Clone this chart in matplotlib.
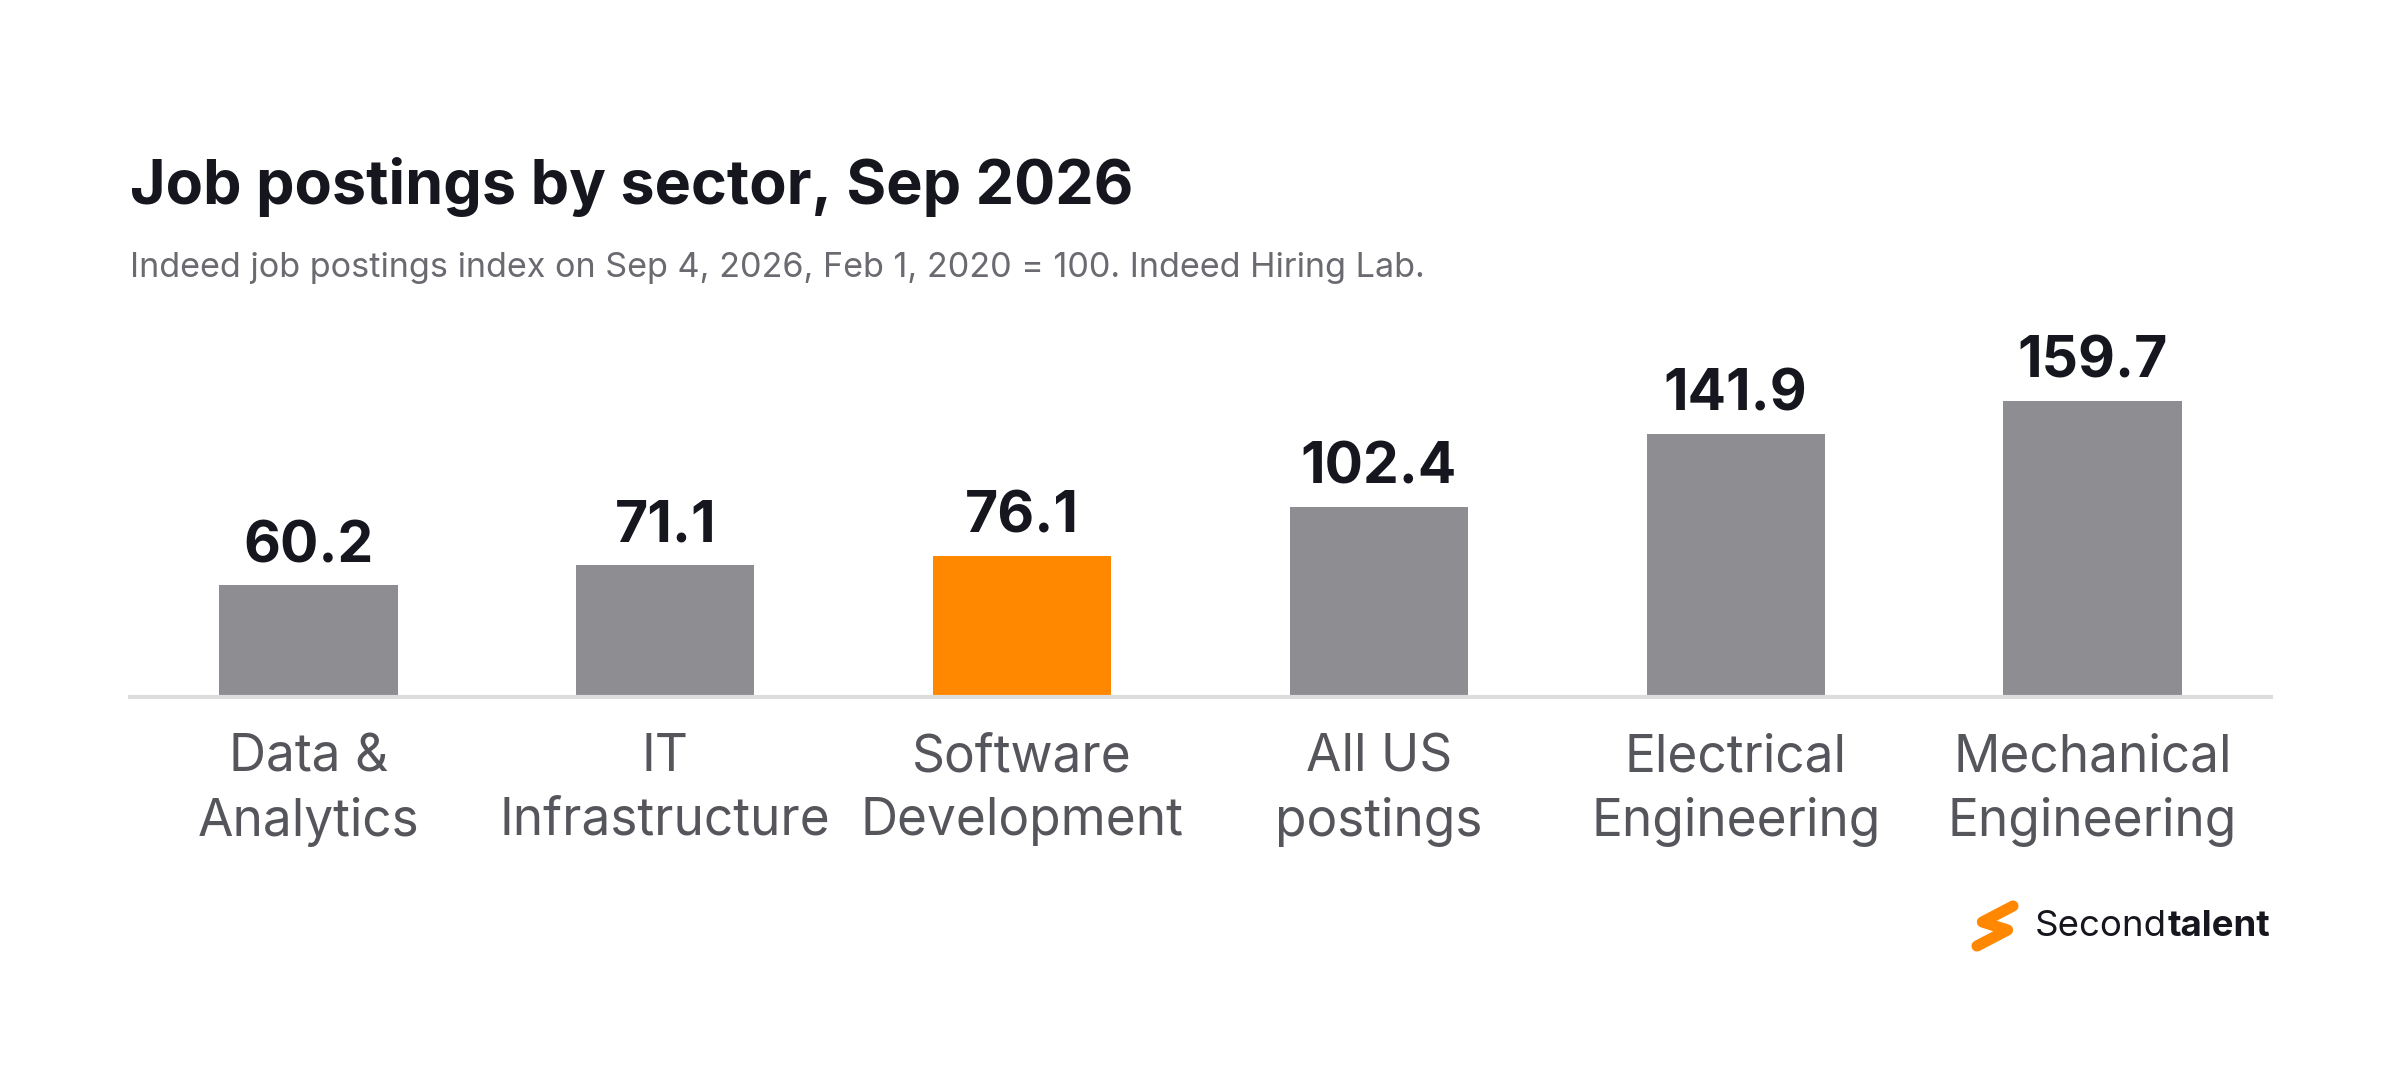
import matplotlib
matplotlib.use("Agg")
import matplotlib.pyplot as plt
from matplotlib.lines import Line2D

categories = ["Data &\nAnalytics", "IT\nInfrastructure", "Software\nDevelopment",
              "All US\npostings", "Electrical\nEngineering", "Mechanical\nEngineering"]
values = [60.2, 71.1, 76.1, 102.4, 141.9, 159.7]
highlight = "Software\nDevelopment"

GRAY = "#8e8e92"
ORANGE = "#ff8800"
DARK = "#16161e"
LABEL = "#55555c"
plt.rcParams['font.family'] = ['Inter', 'DejaVu Sans']

fig = plt.figure(figsize=(12, 5.34), dpi=200)
ax = fig.add_axes([130/2400, 1-697/1068, (2271-130)/2400, 397/1068])
colors = [ORANGE if c == highlight else GRAY for c in categories]
x = range(len(values))
ax.bar(x, values, width=0.5, color=colors, zorder=2)
for i, v in enumerate(values):
    ax.text(i, v + 6, f"{v:.1f}", ha="center", va="bottom", fontsize=20.5,
            fontweight="bold", color=DARK)
ax.set_xlim(-0.5, 5.5)
ax.set_ylim(0, 214)
ax.set_yticks([])
ax.set_xticks(list(x))
ax.set_xticklabels(categories, fontsize=18.5, color=LABEL, linespacing=1.38)
ax.tick_params(axis="x", length=0, pad=13)
for s in ["top", "right", "left"]:
    ax.spines[s].set_visible(False)
ax.spines["bottom"].set_color("#dddddd")
ax.spines["bottom"].set_linewidth(1.5)

fig.text(130/2400, 1-187/1068, "Job postings by sector, Sep 2026", fontsize=22,
         fontweight="bold", color=DARK, va="center")
fig.text(130/2400, 1-268/1068,
         "Indeed job postings index on Sep 4, 2026, Feb 1, 2020 = 100. Indeed Hiring Lab.",
         fontsize=12.3, color="#6a6a70", va="center")

# logo
fig.canvas.draw()
t1 = fig.text(2035/2400, 1-926/1068, "Second", fontsize=13.2, color=DARK,
              ha="left", va="center")
bb = t1.get_window_extent(renderer=fig.canvas.get_renderer())
fig.text(bb.x1/2400 + 1/2400, 1-926/1068, "talent", fontsize=13.2, fontweight="bold",
         color=DARK, ha="left", va="center")
lx, ly = 1995/2400, 1-926/1068
w, h = 18/2400, 20/1068
fig.lines.append(Line2D([lx+w, lx-w*0.7, lx+w*0.7, lx-w],
                        [ly+h, ly+h*0.2, ly-h*0.2, ly-h],
                        transform=fig.transFigure, color=ORANGE, lw=4,
                        solid_capstyle="round", solid_joinstyle="round"))
fig.savefig("out.png", facecolor="white")
